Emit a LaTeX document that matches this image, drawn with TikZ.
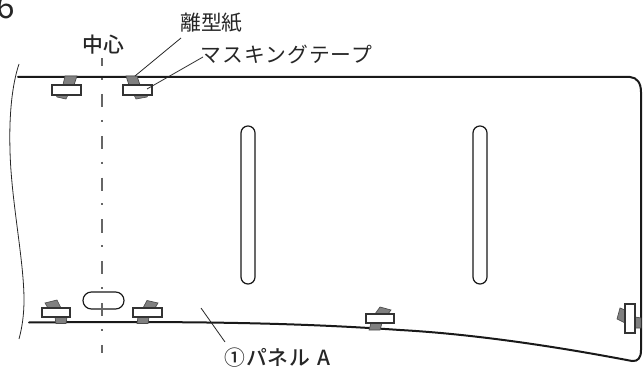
\documentclass[tikz,border=0pt]{standalone}
\usepackage{fontspec}
\setmainfont{Noto Sans CJK JP}
\newfontfamily\medfont[LetterSpace=2]{Noto Sans CJK JP Medium}
\newfontfamily\spacedfont[LetterSpace=5.2]{Noto Sans CJK JP}
\newfontfamily\panelfont[LetterSpace=5]{Noto Sans CJK JP Medium}
\tikzset{
  panel/.style={line width=1.5pt,black!90},
  thinl/.style={line width=0.6pt,black!85},
  tapeg/.style={fill=black!50,draw=black!70,line width=0.5pt},
  paper/.style={fill=white,draw=black!80,line width=0.8pt},
  slot/.style={draw=black!90,line width=0.9pt,rounded corners=5.2pt,fill=white},
  axisline/.style={line width=0.9pt,black!60},
  axisdash/.style={axisline,dash pattern=on 9.975pt off 9.375pt on 1.5pt off 10.5pt},
  lab/.style={inner sep=0pt,font=\fontsize{15.6pt}{16pt}\selectfont,text=black!85,anchor=west},
}
\begin{document}
\begin{tikzpicture}[x=0.75pt,y=-0.75pt]
\useasboundingbox (0,0) rectangle (643,367);
\begin{scope}
\clip (0,0) rectangle (643,367);
\node[inner sep=0pt,anchor=west,font=\fontsize{25pt}{26pt}\selectfont,text=black!85] (fig) at (-4,7) {6};
\end{scope}
% panel
\draw[panel,line cap=round] (18,77) -- (630,77) .. controls (637,77.5) and (641,83) .. (641,92) -- (641,350)
 .. controls (641,358) and (638,361.5) .. (632,361)
 .. controls (585,352) and (490,335) .. (400,330) .. controls (300,323) and (200,321) .. (29,322.5);
\draw[thinl] (19,64) .. controls (12,85) and (9,115) .. (10,150) .. controls (11,200) and (24,260) .. (24,300) .. controls (24,315) and (22,328) .. (19,339);
% slots
\draw[slot] (241,126) rectangle (255,284);
\draw[slot] (473,126) rectangle (487,284);
\draw[draw=black!90,line width=0.9pt,rounded corners=6.3pt,fill=white] (83,292) rectangle (124,309);
% centre line
\coordinate (cA) at (102,58.5);
\coordinate (cA2) at (102,66);
\coordinate (cD) at (102,78);
\coordinate (cD2) at (102,80);
\coordinate (cS) at (102,94);
\coordinate (cB) at (102,353);
\draw[axisline] (cA) -- (cA2);
\draw[axisline] (cD) -- (cD2);
\draw[axisdash] (cS) -- (cB);
% tapes
\draw[tapeg] (65,76) -- (77,76) -- (74,85) -- (63,85) -- cycle;
\draw[tapeg] (56,95) -- (68,95) -- (66,99) -- (57,97) -- cycle;
\draw[paper] (52,85) rectangle (81,95);
\draw[tapeg] (126,76) -- (137,76) -- (140,85) -- (129,85) -- cycle;
\draw[tapeg] (134,95) -- (148,95) -- (147,97) -- (136,99) -- cycle;
\draw[paper] (123,85) rectangle (152,95);
\draw[tapeg] (55,317) -- (67,317) -- (66,323.5) -- (56,323.5) -- cycle;
\draw[tapeg] (45,303) -- (57,300) -- (61,308) -- (48,308) -- cycle;
\draw[paper] (42,308) rectangle (70,317);
\draw[tapeg] (138,317) -- (149,317) -- (148,323.5) -- (137,323.5) -- cycle;
\draw[tapeg] (143,308) -- (147,300.5) -- (158,303) -- (155,308) -- cycle;
\draw[paper] (133,308) rectangle (162,317);
\draw[tapeg] (371,323) -- (382,323) -- (380,330) -- (369,330) -- cycle;
\draw[tapeg] (375,314) -- (380,307) -- (391,310) -- (388,314) -- cycle;
\draw[paper] (366,314) rectangle (394,323);
\draw[tapeg] (625,310) -- (620,308) -- (617,319) -- (625,323) -- cycle;
\draw[tapeg] (635,317) -- (641,318) -- (641,328) -- (635,328) -- cycle;
\draw[paper] (625,304) rectangle (635,333);
% labels
\node[lab] (centre) at (82,45) {\medfont 中心};
\node[lab] (liner) at (180,23) {離型紙};
\node[lab] (mask) at (200,54) {\spacedfont マスキングテープ};
\node[lab] (panelA) at (224,358) {\panelfont ①パネル\hspace{5pt}A};
\coordinate (t1) at (135,76);
\coordinate (t2) at (147,89);
\coordinate (l1) at (181,38);
\coordinate (l2) at (203,57);
\coordinate (p1) at (201,308);
\coordinate (p2) at (225,342);
\draw[thinl] (l1) -- (t1);
\draw[thinl] (l2) -- (t2);
\draw[thinl] (p1) -- (p2);
\end{tikzpicture}
\end{document}
